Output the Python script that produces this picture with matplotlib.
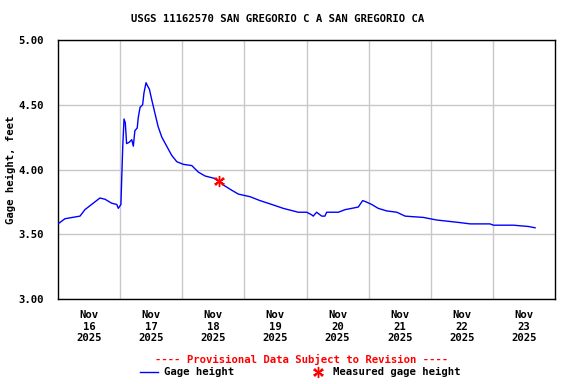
import matplotlib
matplotlib.use("Agg")
import matplotlib.pyplot as plt
import numpy as np
from datetime import datetime, timedelta

# Data: hours since 2025-11-16 00:00 and gage height (ft)
hours = [0, 2.7, 8.5, 10.4, 16.2, 18.2, 20.7, 22.7, 23.3, 24.3, 24.6, 25.0, 25.5, 26.0,
         26.5, 27.5, 28.5, 29.1, 29.7, 30.6, 31.0, 31.7, 32.7, 33.2, 34.0, 34.5, 35.3,
         36.2, 37.5, 38.7, 40.1, 42.0, 43.9, 45.9, 48.4, 51.7, 54.2, 56.8, 60.7, 63.9,
         67.1, 69.7, 74.2, 78.0, 82.6, 87.0, 92.8, 96.1, 98.0, 98.6, 99.9, 101.9, 103.1,
         103.8, 108.3, 110.9, 113.5, 116.0, 117.7, 119.0, 121.2, 123.7, 127.0, 130.9,
         134.1, 141.1, 146.3, 155.3, 159.2, 166.9, 168.2, 175.9, 181.7, 184.3]
gage = [3.58, 3.62, 3.64, 3.69, 3.78, 3.77, 3.74, 3.73, 3.70, 3.73, 3.92, 4.17, 4.39, 4.36,
        4.20, 4.21, 4.23, 4.18, 4.30, 4.32, 4.40, 4.48, 4.50, 4.59, 4.67, 4.65, 4.62,
        4.54, 4.43, 4.33, 4.25, 4.18, 4.11, 4.06, 4.04, 4.03, 3.98, 3.95, 3.93, 3.88,
        3.84, 3.81, 3.79, 3.76, 3.73, 3.70, 3.67, 3.67, 3.65, 3.64, 3.67, 3.64, 3.64,
        3.67, 3.67, 3.69, 3.70, 3.71, 3.76, 3.75, 3.73, 3.70, 3.68, 3.67,
        3.64, 3.63, 3.61, 3.59, 3.58, 3.58, 3.57, 3.57, 3.56, 3.55]
meas_hours = [62.3]
meas_gage = [3.91]

day_labels = ["Nov\n16\n2025", "Nov\n17\n2025", "Nov\n18\n2025", "Nov\n19\n2025",
              "Nov\n20\n2025", "Nov\n21\n2025", "Nov\n22\n2025", "Nov\n23\n2025"]
yticks = [3.00, 3.50, 4.00, 4.50, 5.00]

start = datetime(2025, 11, 16)
t = [start + timedelta(hours=h) for h in hours]
tm = [start + timedelta(hours=h) for h in meas_hours]

font = "DejaVu Sans Mono"
plt.rcParams['font.family'] = font
plt.rcParams['font.weight'] = 'bold'
FS = 7.7

fig = plt.figure(figsize=(5.76, 3.84), dpi=100)
W, H = 576, 384
ax = fig.add_axes([58 / W, 1 - 299 / H, (555 - 58) / W, (299 - 40) / H])

ax.plot(t, gage, color="#0000ff", lw=1.0, zorder=3)
ax.plot(tm, meas_gage, marker=(6, 2, 0), color="red", ms=8, mew=1.0, ls="none", zorder=4)
ax.plot(tm, meas_gage, marker="x", color="red", ms=6, mew=1.0, ls="none", zorder=4)

ax.set_xlim(start, start + timedelta(days=8))
ax.set_ylim(3.0, 5.0)

grid_days = [start + timedelta(days=i) for i in range(1, 8)]
ax.set_xticks(grid_days)
ax.set_xticklabels([])
ax.tick_params(axis='x', length=0)
mid_days = [start + timedelta(days=i, hours=12) for i in range(8)]
ax.set_xticks(mid_days, minor=True)
ax.set_xticklabels(day_labels, minor=True, fontsize=FS, fontweight='bold', linespacing=1.2)
ax.tick_params(axis='x', which='minor', length=0, pad=8)

ax.set_yticks(yticks)
ax.set_yticklabels([f"{v:.2f}" for v in yticks], fontsize=FS, fontweight='bold')
ax.tick_params(axis='y', length=0, pad=10)
ax.grid(True, which='major', color="#c8c8c8", lw=1.0)
for s in ax.spines.values():
    s.set_linewidth(1.0)
    s.set_color("black")

ax.set_ylabel("Gage height, feet", fontsize=FS, fontweight='bold', labelpad=2)

fig.text(277.5 / W, 1 - 19 / H, "USGS 11162570 SAN GREGORIO C A SAN GREGORIO CA",
         ha='center', va='center', fontsize=FS, fontweight='bold')
fig.text(301.5 / W, 1 - 359 / H, "---- Provisional Data Subject to Revision ----",
         ha='center', va='center', fontsize=FS, fontweight='bold', color='red')
fig.add_artist(plt.Line2D([140 / W, 158 / W], [1 - 372 / H, 1 - 372 / H], color="#0000ff", lw=1.0))
fig.text(164 / W, 1 - 372 / H, "Gage height", ha='left', va='center', fontsize=FS, fontweight='bold')
fig.add_artist(plt.Line2D([318 / W], [1 - 372 / H], marker=(6, 2, 0), color='red', ms=8, mew=1.0))
fig.add_artist(plt.Line2D([318 / W], [1 - 372 / H], marker='x', color='red', ms=6, mew=1.0))
fig.text(333 / W, 1 - 372 / H, "Measured gage height", ha='left', va='center', fontsize=FS, fontweight='bold')

fig.savefig("out.png", dpi=100)
